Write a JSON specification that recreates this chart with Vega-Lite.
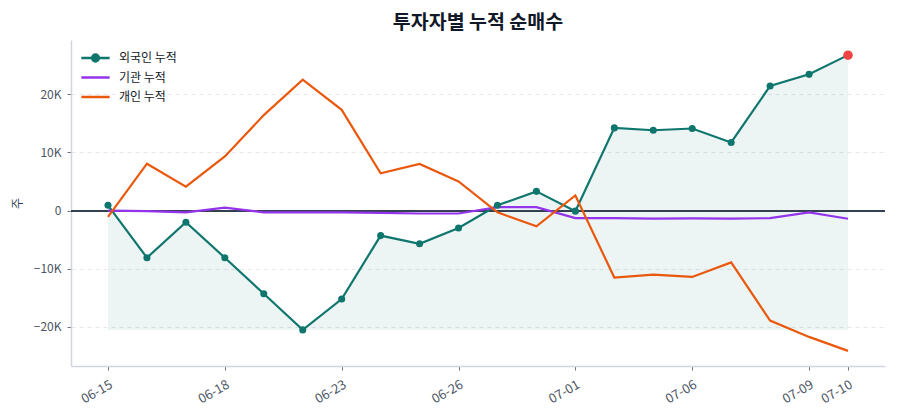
{
  "$schema": "https://vega.github.io/schema/vega-lite/v6.json",
  "width": 814,
  "height": 326,
  "autosize": {"type": "none"},
  "padding": {"left": 71, "top": 40, "right": 15, "bottom": 54},
  "background": "white",
  "config": {
    "font": "Noto Sans CJK KR",
    "view": {"stroke": null},
    "axis": {"labelFont": "Noto Sans CJK KR", "titleFont": "Noto Sans CJK KR"}
  },
  "title": {
    "text": "투자자별 누적 순매수",
    "fontSize": 19.5,
    "fontWeight": "bold",
    "color": "#111827",
    "anchor": "middle",
    "offset": 7,
    "font": "Noto Sans CJK KR"
  },
  "data": {
    "values": [
      {"d": "06-15", "s": "외국인 누적", "v": 900},
      {"d": "06-16", "s": "외국인 누적", "v": -8100},
      {"d": "06-17", "s": "외국인 누적", "v": -2000},
      {"d": "06-18", "s": "외국인 누적", "v": -8100},
      {"d": "06-19", "s": "외국인 누적", "v": -14300},
      {"d": "06-22", "s": "외국인 누적", "v": -20500},
      {"d": "06-23", "s": "외국인 누적", "v": -15200},
      {"d": "06-24", "s": "외국인 누적", "v": -4300},
      {"d": "06-25", "s": "외국인 누적", "v": -5700},
      {"d": "06-26", "s": "외국인 누적", "v": -3000},
      {"d": "06-29", "s": "외국인 누적", "v": 900},
      {"d": "06-30", "s": "외국인 누적", "v": 3300},
      {"d": "07-01", "s": "외국인 누적", "v": -100},
      {"d": "07-02", "s": "외국인 누적", "v": 14200},
      {"d": "07-03", "s": "외국인 누적", "v": 13800},
      {"d": "07-06", "s": "외국인 누적", "v": 14100},
      {"d": "07-07", "s": "외국인 누적", "v": 11700},
      {"d": "07-08", "s": "외국인 누적", "v": 21400},
      {"d": "07-09", "s": "외국인 누적", "v": 23400},
      {"d": "07-10", "s": "외국인 누적", "v": 26700},
      {"d": "06-15", "s": "기관 누적", "v": 0},
      {"d": "06-16", "s": "기관 누적", "v": -100},
      {"d": "06-17", "s": "기관 누적", "v": -300},
      {"d": "06-18", "s": "기관 누적", "v": 500},
      {"d": "06-19", "s": "기관 누적", "v": -300},
      {"d": "06-22", "s": "기관 누적", "v": -300},
      {"d": "06-23", "s": "기관 누적", "v": -300},
      {"d": "06-24", "s": "기관 누적", "v": -400},
      {"d": "06-25", "s": "기관 누적", "v": -500},
      {"d": "06-26", "s": "기관 누적", "v": -500},
      {"d": "06-29", "s": "기관 누적", "v": 600},
      {"d": "06-30", "s": "기관 누적", "v": 600},
      {"d": "07-01", "s": "기관 누적", "v": -1300},
      {"d": "07-02", "s": "기관 누적", "v": -1300},
      {"d": "07-03", "s": "기관 누적", "v": -1400},
      {"d": "07-06", "s": "기관 누적", "v": -1350},
      {"d": "07-07", "s": "기관 누적", "v": -1400},
      {"d": "07-08", "s": "기관 누적", "v": -1300},
      {"d": "07-09", "s": "기관 누적", "v": -300},
      {"d": "07-10", "s": "기관 누적", "v": -1400},
      {"d": "06-15", "s": "개인 누적", "v": -1100},
      {"d": "06-16", "s": "개인 누적", "v": 8050},
      {"d": "06-17", "s": "개인 누적", "v": 4100},
      {"d": "06-18", "s": "개인 누적", "v": 9300},
      {"d": "06-19", "s": "개인 누적", "v": 16400},
      {"d": "06-22", "s": "개인 누적", "v": 22500},
      {"d": "06-23", "s": "개인 누적", "v": 17300},
      {"d": "06-24", "s": "개인 누적", "v": 6400},
      {"d": "06-25", "s": "개인 누적", "v": 8000},
      {"d": "06-26", "s": "개인 누적", "v": 5000},
      {"d": "06-29", "s": "개인 누적", "v": -300},
      {"d": "06-30", "s": "개인 누적", "v": -2700},
      {"d": "07-01", "s": "개인 누적", "v": 2600},
      {"d": "07-02", "s": "개인 누적", "v": -11500},
      {"d": "07-03", "s": "개인 누적", "v": -11000},
      {"d": "07-06", "s": "개인 누적", "v": -11400},
      {"d": "07-07", "s": "개인 누적", "v": -8900},
      {"d": "07-08", "s": "개인 누적", "v": -18900},
      {"d": "07-09", "s": "개인 누적", "v": -21700},
      {"d": "07-10", "s": "개인 누적", "v": -24100}
    ]
  },
  "encoding": {
    "x": {
      "field": "d",
      "type": "ordinal",
      "scale": {"type": "point", "padding": 0.95},
      "axis": {
        "title": null,
        "values": ["06-15", "06-18", "06-23", "06-26", "07-01", "07-06", "07-09", "07-10"],
        "labelAngle": -30,
        "labelFontSize": 13,
        "labelColor": "#4b5563",
        "tickColor": "#6b7280",
        "tickSize": 4,
        "domainColor": "#d1d5db",
        "domainWidth": 1.5,
        "grid": false,
        "labelPadding": 8,
        "labelDx": -6
      }
    },
    "y": {
      "field": "v",
      "type": "quantitative",
      "scale": {"domain": [-26700, 29300], "nice": false, "zero": false},
      "axis": {
        "title": "주",
        "titleFontSize": 12,
        "titleFontWeight": "normal",
        "titleColor": "#374151",
        "titlePadding": 9,
        "values": [-20000, -10000, 0, 10000, 20000],
        "labelExpr": "datum.value == 0 ? '0' : format(datum.value / 1000, 'd') + 'K'",
        "labelFontSize": 12,
        "labelColor": "#4b5563",
        "labelPadding": 6,
        "tickColor": "#6b7280",
        "tickSize": 4,
        "domainColor": "#d1d5db",
        "domainWidth": 1.5,
        "grid": true,
        "gridColor": "#e5e7eb",
        "gridDash": [4, 4],
        "gridWidth": 1
      }
    }
  },
  "layer": [
    {
      "transform": [
        {"filter": "datum.s == '외국인 누적'"},
        {"joinaggregate": [{"op": "min", "field": "v", "as": "vmin"}]}
      ],
      "mark": {"type": "area", "color": "#0f766e", "opacity": 0.08},
      "encoding": {"y2": {"field": "vmin"}}
    },
    {
      "mark": {"type": "rule", "color": "#374151", "strokeWidth": 1},
      "encoding": {"y": {"datum": 0}, "x": {"value": 0}, "x2": {"value": 814}}
    },
    {
      "mark": {"type": "line", "strokeWidth": 2.2},
      "encoding": {
        "color": {
          "field": "s",
          "type": "nominal",
          "scale": {
            "domain": ["외국인 누적", "기관 누적", "개인 누적"],
            "range": ["#0f766e", "#9333ea", "#ea580c"]
          },
          "legend": {
            "title": null,
            "orient": "none",
            "legendX": 9,
            "legendY": 9.5,
            "symbolType": "stroke",
            "symbolSize": 800,
            "symbolStrokeWidth": 2.5,
            "labelFontSize": 12,
            "labelColor": "#111827",
            "labelFont": "Noto Sans CJK KR",
            "clipHeight": 17,
            "rowPadding": 2.5,
            "labelOffset": 8,
            "encode": {
              "symbols": {
                "update": {
                  "shape": {"signal": "datum.value == '외국인 누적' ? 'M-1,0H1M-0.24,0A0.24,0.24 0 1,0 0.24,0A0.24,0.24 0 1,0 -0.24,0Z' : 'stroke'"},
                  "fill": {"signal": "datum.value == '외국인 누적' ? '#0f766e' : 'transparent'"}
                }
              }
            }
          }
        },
        "strokeWidth": {
          "condition": {"test": "datum.s == '외국인 누적'", "value": 2.8},
          "value": 2.2
        }
      }
    },
    {
      "transform": [{"filter": "datum.s == '외국인 누적'"}],
      "mark": {"type": "point", "filled": true, "size": 50, "color": "#0f766e", "opacity": 1}
    },
    {
      "transform": [{"filter": "datum.s == '외국인 누적' && datum.d == '07-10'"}],
      "mark": {"type": "point", "filled": true, "size": 90, "color": "#ef4444", "opacity": 1}
    }
  ]
}
